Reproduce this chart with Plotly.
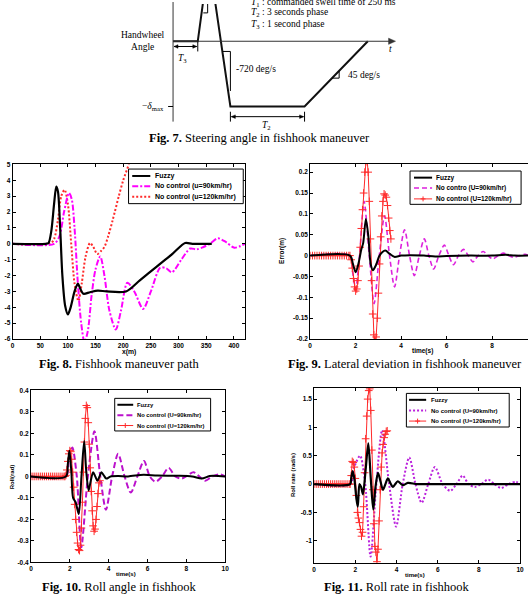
import plotly.graph_objects as go

W, H = 532, 600

# ---------------- data ----------------
# Fig. 7 handwheel angle profile (schematic units: s, deg)
steer_t = [0, 1.0, 1.45, 2.32, 5.32, 7.88]
steer_deg = [0, 0, 145, -115, -115, 0]

# Fig. 8 fishhook path  (x in m, y lateral)
f8_fuzzy_x = [0, 60, 65, 70, 75, 79, 82, 86, 90, 95, 100, 105, 112, 118, 122, 128, 140, 154, 170, 205, 230, 260, 290, 312, 325, 360]
f8_fuzzy_y = [0, 0, 0.05, 0.8, 2.5, 3.6, 3.3, 1.0, -2.0, -3.9, -4.45, -4.0, -3.0, -2.5, -2.8, -3.15, -3.05, -2.95, -3.0, -3.0, -2.3, -1.45, -0.6, 0.05, 0.0, 0.0]
f8_u90_x = [0, 75, 85, 93, 102, 107, 112, 118, 124, 130, 136, 143, 150, 158.5, 166, 175, 186.6, 196, 207.5, 220, 236, 250, 267, 278, 288, 305, 321, 333, 345, 357, 371, 386, 401, 420]
f8_u90_y = [0, 0, 0.5, 2.0, 3.2, 2.8, 1.0, -2.5, -5.0, -6.2, -5.5, -3.2, -1.6, -0.8, -2.0, -4.2, -5.4, -4.2, -2.45, -3.0, -4.1, -3.0, -1.5, -1.55, -1.8, -1.0, -0.3, -0.35, -0.2, 0.0, 0.35, 0.1, -0.25, 0.0]
f8_u120_x = [0, 68, 75, 82, 88, 94, 100, 106, 112, 119, 125, 132, 140, 146, 153, 160, 166, 173, 181, 192, 200, 210, 216]
f8_u120_y = [0, 0, 0.3, 1.5, 3.0, 3.4, 2.5, 0.0, -2.5, -3.6, -2.5, -0.8, 0.05, -0.2, -0.65, -0.45, -0.2, 0.5, 1.5, 3.0, 4.0, 5.0, 5.8]

# time grid of the "No control (U=120km/hr)" runs (marker positions)
red_t = [0, 0.1, 0.2, 0.3, 0.4, 0.5, 0.6, 0.7, 0.8, 0.9, 1.0, 1.1, 1.2, 1.3, 1.4, 1.5, 1.6, 1.7,
         1.75, 1.8, 1.85, 1.9, 1.95, 2.0, 2.05, 2.1, 2.15, 2.2, 2.25, 2.3, 2.35, 2.4, 2.45, 2.5, 2.55,
         2.6, 2.65, 2.7, 2.75, 2.8, 2.85, 2.9, 2.95, 3.0, 3.05, 3.1, 3.15, 3.2, 3.25, 3.3, 3.35, 3.4,
         3.45, 3.5, 3.55]

# Fig. 9 lateral deviation
f9_fz_t = [0, 1.75, 1.88, 2.0, 2.12, 2.25, 2.33, 2.45, 2.56, 2.66, 2.76, 2.9, 3.05, 3.3, 3.5, 3.7, 4.0, 4.4, 5.0, 5.5, 6.0, 7.0, 8.0, 8.6, 9.0, 9.6]
f9_fz_y = [0, 0, -0.02, -0.04, -0.02, 0.015, 0.03, 0.088, 0.045, -0.02, -0.035, -0.022, 0.0, 0.012, 0.004, -0.003, 0.0, 0.001, 0.0, -0.002, -0.001, 0.0, 0.0, 0.002, 0.0, 0.0]
f9_u90_t = [0, 1.75, 1.87, 2.0, 2.17, 2.37, 2.6, 2.81, 3.04, 3.27, 3.49, 3.71, 3.93, 4.15, 4.37, 4.58, 4.8, 5.02, 5.22, 5.43, 5.66, 5.9, 6.1, 6.3, 6.52, 6.74, 6.95, 7.16, 7.38, 7.61, 7.82, 8.03, 8.27, 8.5, 8.72, 8.95, 9.2, 9.45, 9.6]
f9_u90_y = [0, 0, -0.04, -0.08, 0.0, 0.13, 0.0, -0.115, 0.0, 0.095, 0.0, -0.075, 0.0, 0.062, 0.0, -0.048, 0.0, 0.04, 0.0, -0.032, 0.0, 0.025, 0.0, -0.022, 0.0, 0.015, 0.0, -0.015, 0.0, 0.01, 0.0, -0.008, 0.0, 0.006, 0.0, -0.004, 0.0, 0.003, 0.0]
f9_u120_y = [0, 0, 0, 0, 0, 0, 0, 0, 0, 0, 0, 0, 0, 0, 0, 0, 0, 0,
             0, -0.01, -0.03, -0.055, -0.075, -0.085, -0.08, -0.06, -0.025, 0.02, 0.065, 0.11, 0.15, 0.2,
             0.225, 0.23, 0.2, 0.13, 0.04, -0.06, -0.14, -0.19, -0.205, -0.195, -0.15, -0.09, -0.02, 0.045,
             0.095, 0.13, 0.148, 0.145, 0.14, 0.12, 0.09, 0.06, 0.04]

# Fig. 10 roll angle
f10_fz_t = [0, 1.8, 1.9, 1.98, 2.08, 2.17, 2.3, 2.46, 2.6, 2.74, 2.85, 2.97, 3.08, 3.2, 3.31, 3.42, 3.53, 3.63, 3.75, 3.88, 4.1, 4.5, 5.0, 5.8, 6.5, 7.5, 8.3, 8.8, 9.2, 10]
f10_fz_y = [0, 0, 0.06, 0.12, 0.02, -0.1, -0.12, -0.175, 0.0, 0.165, 0.02, -0.065, -0.02, 0.02, 0.0, -0.02, 0.0, 0.02, 0.005, -0.01, 0.0, 0.002, 0.0, 0.008, 0.004, 0.003, 0.0, -0.01, 0.002, 0.0]
f10_u90_t = [0, 1.8, 1.95, 2.13, 2.36, 2.59, 2.93, 3.27, 3.57, 3.86, 4.18, 4.49, 4.82, 5.14, 5.48, 5.82, 6.12, 6.41, 6.75, 7.09, 7.43, 7.77, 8.07, 8.37, 8.67, 8.97, 9.35, 9.73, 10]
f10_u90_y = [0, 0, 0.08, 0.135, 0.0, -0.33, 0.0, 0.21, 0.0, -0.155, 0.0, 0.105, 0.0, -0.075, 0.0, 0.072, 0.0, -0.025, 0.0, 0.04, 0.0, -0.01, 0.005, 0.02, 0.0, -0.02, 0.0, 0.01, 0.0]
f10_u120_y = [0, 0, 0, 0, 0, 0, 0, 0, 0, 0, 0, 0, 0, 0, 0, 0, 0, 0,
              0, 0.005, 0.03, 0.07, 0.105, 0.12, 0.115, 0.08, 0.02, -0.05, -0.13, -0.2, -0.26, -0.31,
              -0.34, -0.345, -0.32, -0.24, -0.12, 0.02, 0.16, 0.27, 0.33, 0.32, 0.25, 0.15, 0.04, -0.07,
              -0.16, -0.23, -0.255, -0.245, -0.2, -0.14, -0.08, -0.03, -0.02]

# Fig. 11 roll rate
f11_fz_t = [0, 1.75, 1.8, 1.87, 1.95, 2.05, 2.12, 2.2, 2.28, 2.37, 2.5, 2.63, 2.75, 2.87, 2.98, 3.1, 3.22, 3.34, 3.46, 3.58, 3.7, 3.82, 3.94, 4.06, 4.3, 4.55, 5.0, 6.0, 7.0, 8.0, 9.0, 10]
f11_fz_y = [0, 0, 0.1, 0.23, 0.1, -0.25, -0.4, 0.0, -0.05, -0.18, 0.25, 0.72, 0.1, -0.45, -0.05, 0.2, 0.05, -0.1, 0.0, 0.1, 0.02, -0.05, 0.0, 0.05, -0.02, 0.02, 0.0, 0.0, 0.0, 0.0, 0.0, 0.0]
f11_u90_t = [0, 1.75, 1.95, 2.23, 2.48, 2.74, 3.02, 3.3, 3.64, 3.98, 4.3, 4.62, 4.92, 5.22, 5.54, 5.86, 6.24, 6.61, 6.91, 7.21, 7.5, 7.8, 8.12, 8.44, 8.76, 9.08, 9.44, 9.8, 10]
f11_u90_y = [0, 0, 0.3, 0.5, 0.0, -1.28, 0.0, 0.95, 0.0, -0.75, 0.0, 0.47, 0.0, -0.33, 0.0, 0.3, 0.0, -0.12, 0.0, 0.15, 0.0, -0.05, 0.0, 0.08, 0.0, -0.07, 0.0, 0.04, 0.0]
f11_u120_y = [0, 0, 0, 0, 0, 0, 0, 0, 0, 0, 0, 0, 0, 0, 0, 0, 0, 0,
              0, 0.15, 0.4, 0.38, 0.3, 0.1, -0.2, -0.5, -0.6, -0.68, -0.8, -0.92, -0.85, -0.4,
              0.2, 0.8, 1.2, 1.5, 1.65, 1.68, 1.3, 0.6, -0.1, -0.7, -1.1, -1.2, -1.37, -1.15,
              -0.65, -0.1, 0.3, 0.55, 0.7, 0.82, 0.88, 0.93, 0.94]

# tick labels
f8_xt = [0, 50, 100, 150, 200, 250, 300, 350, 400]
f8_yt = [-6, -5, -4, -3, -2, -1, 0, 1, 2, 3, 4, 5]
f9_xt = [0, 2, 4, 6, 8]
f9_yt = [-0.2, -0.15, -0.1, -0.05, 0, 0.05, 0.1, 0.15, 0.2]
f9_ytl = ["-0.2", "-0.15", "-0.1", "-0.05", "0", "0.05", "0.1", "0.15", "0.2"]
f10_xt = [0, 2, 4, 6, 8, 10]
f10_yt = [-0.4, -0.3, -0.2, -0.1, 0, 0.1, 0.2, 0.3, 0.4]
f10_ytl = ["-0.4", "-0.3", "-0.2", "-0.1", "0", "0.1", "0.2", "0.3", "0.4"]
f11_xt = [0, 2, 4, 6, 8, 10]
f11_yt = [-1, -0.5, 0, 0.5, 1, 1.5]
f11_ytl = ["-1", "-0.5", "0", "0.5", "1", "1.5"]

# ---------------- figure ----------------
def fx(px):
    return px / W

def fy(py):
    return 1 - py / H

BLACK = "#000000"
MAG8 = "#ff00ff"
MAG9 = "#dd22dd"
MAG10 = "#bb11cc"
MAG11 = "#bb22dd"
RED = "#ff2a2a"
SANS = "Liberation Sans"
SERIF = "Liberation Serif"
DASHDOT = "6px,2px,2px,2px"
DOT = "2px,2px"
DASH9 = "5px,3px"
DASH10 = "6px,3px"

fig = go.Figure()

def line(x, y, xa, ya, color, width, dash="solid", spline=True, marker=False):
    kw = dict(x=x, y=y, xaxis=xa, yaxis=ya, showlegend=False, hoverinfo="skip",
              line=dict(color=color, width=width, dash=dash,
                        shape="spline" if spline else "linear", smoothing=0.8))
    if marker:
        kw["mode"] = "lines+markers"
        kw["marker"] = dict(symbol="cross-thin", size=5.5, line=dict(color=color, width=1), color=color)
    else:
        kw["mode"] = "lines"
    fig.add_trace(go.Scatter(**kw))

# Fig 8
line(f8_u120_x, f8_u120_y, "x", "y", RED, 2, DOT)
line(f8_u90_x, f8_u90_y, "x", "y", MAG8, 2, DASHDOT)
line(f8_fuzzy_x, f8_fuzzy_y, "x", "y", BLACK, 2.2)
# Fig 9
line(f9_u90_t, f9_u90_y, "x2", "y2", MAG9, 1.6, DASH9)
line(red_t, f9_u120_y, "x2", "y2", RED, 1, spline=False, marker=True)
line(f9_fz_t, f9_fz_y, "x2", "y2", BLACK, 2)
# Fig 10
line(f10_u90_t, f10_u90_y, "x3", "y3", MAG10, 2, DASH10)
line(red_t, f10_u120_y, "x3", "y3", RED, 1, spline=False, marker=True)
line(f10_fz_t, f10_fz_y, "x3", "y3", BLACK, 2)
# Fig 11
line(f11_u90_t, f11_u90_y, "x4", "y4", MAG11, 2, DOT)
line(red_t, f11_u120_y, "x4", "y4", RED, 1, spline=False, marker=True)
line(f11_fz_t, f11_fz_y, "x4", "y4", BLACK, 2.2)
# Fig 7 schematic
fig.add_trace(go.Scatter(x=steer_t, y=steer_deg, xaxis="x5", yaxis="y5", mode="lines",
                         line=dict(color="#111111", width=2), showlegend=False, hoverinfo="skip"))

tickfont = dict(family=SANS, size=6.5, color="black", weight="bold")

def axes(n, px0, px1, py0, py1, xr, yr, xt, yt, ytl=None, ymirror="ticks"):
    common = dict(showline=True, linecolor="black", linewidth=1, ticks="inside", ticklen=3,
                  tickcolor="black", showgrid=False, zeroline=False, tickfont=tickfont)
    sx = "" if n == 1 else str(n)
    xa = dict(common, domain=[fx(px0), fx(px1)], range=xr, tickvals=xt,
              ticktext=[str(v) for v in xt], mirror="ticks", anchor="y" + sx)
    ya = dict(common, domain=[fy(py1), fy(py0)], range=yr, tickvals=yt,
              ticktext=ytl if ytl else [str(v) for v in yt], mirror=ymirror, anchor="x" + sx)
    fig.update_layout(**{"xaxis" + sx: xa, "yaxis" + sx: ya})

axes(1, 10.7, 245.7, 162.3, 339, [0, 420], [-6, 5], f8_xt, f8_yt)
axes(2, 311.7, 532, 161.7, 339, [0, 9.58], [-0.2, 0.22], f9_xt, f9_yt, f9_ytl, ymirror=False)
axes(3, 29.3, 225.7, 391, 565, [0, 10], [-0.4, 0.4], f10_xt, f10_yt, f10_ytl)
axes(4, 315.7, 524, 388.3, 566, [0, 10], [-1.4, 1.7], f11_xt, f11_yt, f11_ytl)

# schematic axis: t=0 at px 173, 25 px/s ; 0 deg at py 37.7, 0.574 px/deg
def st(px):
    return (px - 173) / 25.0

def sd(py):
    return (37.7 - py) / 0.574

fig.update_layout(
    xaxis5=dict(domain=[fx(140), fx(400)], range=[st(140), st(400)], visible=False, anchor="y5"),
    yaxis5=dict(domain=[fy(125), fy(0)], range=[sd(125), sd(0)], visible=False, anchor="x5"),
)

shapes = []
ann = []

def seg(x0, y0, x1, y1, color="black", width=1, dash="solid", ref=("paper", "paper")):
    shapes.append(dict(type="line", x0=x0, y0=y0, x1=x1, y1=y1, xref=ref[0], yref=ref[1],
                       line=dict(color=color, width=width, dash=dash)))

def pseg(px0, py0, px1, py1, color="black", width=1):
    seg(fx(px0), fy(py0), fx(px1), fy(py1), color, width)

def head(px, py, direction, size=4, color="black"):
    # filled arrow head, tip at (px, py), pointing right (+1) or left (-1)
    bx = px - direction * size
    path = "M {} {} L {} {} L {} {} Z".format(fx(px), fy(py), fx(bx), fy(py - size * 0.45),
                                             fx(bx), fy(py + size * 0.45))
    shapes.append(dict(type="path", path=path, xref="paper", yref="paper",
                       fillcolor=color, line=dict(color=color, width=0.5)))

def text(px, py, s, size, family=SANS, xanchor="center", bold=False, angle=0, color="black"):
    f = dict(family=family, size=size, color=color)
    if bold:
        f["weight"] = "bold"
    ann.append(dict(x=fx(px), y=fy(py), xref="paper", yref="paper", text=s, showarrow=False,
                    xanchor=xanchor, yanchor="middle", font=f, textangle=angle))

# ---- schematic decorations ----
S = ("x5", "y5")
pseg(173, -2, 173, 119, "#333333", 1)     # vertical axis
pseg(173, 37.7, 392, 37.7, "#333333", 1)  # t axis
head(398, 37.7, 1, 7, "#333333")
# slope triangles
seg(st(203.6), sd(9), st(208), sd(9), ref=S)
seg(st(208), sd(9), st(208), sd(0), ref=S)
seg(st(223), sd(48), st(231), sd(48), ref=S)
seg(st(231), sd(48), st(231), sd(88), ref=S)
seg(st(333.8), sd(75), st(341), sd(75), ref=S)
seg(st(341), sd(75), st(341), sd(68), ref=S)
# -delta_max tick
pseg(168, 103.7, 173, 103.7)
# T3 bracket
pseg(174, 43, 197, 43)
head(174, 43, -1, 4)
head(197, 43, 1, 4)
pseg(198, 38, 198, 48)
# T2 bracket
pseg(232, 114, 305, 114)
head(232, 114, -1, 4)
head(305, 114, 1, 4)
pseg(231, 109, 231, 119)
pseg(306, 109, 306, 119)

text(143, 37.5, "Handwheel<br>Angle", 9.5, SERIF)
text(393, 46, "<i>t</i>", 9.5, SERIF)
text(166, 103.7, "−<i>δ</i><sub>max</sub>", 9.5, SERIF, xanchor="right")
text(183, 55, "<i>T</i><sub>3</sub>", 9.5, SERIF)
text(268, 123, "<i>T</i><sub>2</sub>", 9.5, SERIF)
text(235, 66, "-720 deg/s", 9.5, SERIF, xanchor="left")
text(348, 72, "45 deg/s", 9.5, SERIF, xanchor="left")
text(250, -2, "<i>T</i><sub>1</sub> : commanded swell time of 250 ms", 9.5, SERIF, xanchor="left")
text(250, 9, "<i>T</i><sub>2</sub> : 3 seconds phase", 9.5, SERIF, xanchor="left")
text(250, 20.7, "<i>T</i><sub>3</sub> : 1 second phase", 9.5, SERIF, xanchor="left")

# captions
text(260, 136, "<b>Fig. 7.</b> Steering angle in fishhook maneuver", 12.5, SERIF)
text(118, 364.5, "<b>Fig. 8.</b> Fishhook maneuver path", 12.5, SERIF)
text(287, 364.5, "<b>Fig. 9.</b> Lateral deviation in fishhook maneuver", 12.5, SERIF, xanchor="left")
text(119, 590, "<b>Fig. 10.</b> Roll angle in fishhook", 12.5, SERIF)
text(399, 590, "<b>Fig. 11.</b> Roll rate in fishhook", 12.5, SERIF)

# axis titles
text(128, 352.5, "x(m)", 6.8, bold=True)
text(425, 351.5, "time(s)", 6.5, bold=True)
text(283, 250, "Error(m)", 6.5, bold=True, angle=-90)
text(11, 478, "Roll(rad)", 6, bold=True, angle=-90)
text(125, 577, "time(s)", 6, bold=True)
text(295, 477, "Roll rate (rad/s)", 6, bold=True, angle=-90)
text(418, 578, "time(s)", 6, bold=True)

# manual legends
def legend(box, sx0, sx1, tx, rows, items, fsize):
    x0, y0, x1, y1 = box
    shapes.append(dict(type="rect", xref="paper", yref="paper", x0=fx(x0), x1=fx(x1),
                       y0=fy(y1), y1=fy(y0), line=dict(color="black", width=1), fillcolor="white"))
    for (name, color, dash, width, mk), ry in zip(items, rows):
        seg(fx(sx0), fy(ry), fx(sx1), fy(ry), color, width, dash)
        if mk:
            mx = (sx0 + sx1) / 2
            pseg(mx - 2.5, ry, mx + 2.5, ry, color, 1)
            pseg(mx, ry - 2.5, mx, ry + 2.5, color, 1)
        text(tx, ry, name, fsize, bold=True, xanchor="left")

legend((128, 167, 244, 202), 131.7, 150, 152.5, [174, 184.5, 195],
       [("Fuzzy", BLACK, "solid", 2, False),
        ("No control (u=90km/hr)", MAG8, DASHDOT, 2, False),
        ("No control (u=120km/hr)", RED, DOT, 2, False)], 7)
legend((412.7, 169, 525, 202.7), 416.7, 435, 436.5, [175.7, 186.2, 197.2],
       [("Fuzzy", BLACK, "solid", 2, False),
        ("No contro (U=90km/hr)", MAG9, DASH9, 1.6, False),
        ("No control (U=120km/hr)", RED, "solid", 1, True)], 6.5)
legend((114, 399, 211, 432), 116.7, 132.7, 134.5, [405.5, 416, 426.5],
       [("Fuzzy", BLACK, "solid", 2, False),
        ("No control (U=90km/hr)", MAG10, DASH10, 2, False),
        ("No control (U=120km/hr)", RED, "solid", 1, True)], 5.8)
legend((409, 394, 513, 428), 411.7, 429, 431.5, [400.5, 411.3, 422],
       [("Fuzzy", BLACK, "solid", 2, False),
        ("No control (U=90km/hr)", MAG11, DOT, 2, False),
        ("No control (U=120km/hr)", RED, "solid", 1, True)], 6)

fig.update_layout(width=W, height=H, autosize=False, margin=dict(l=0, r=0, t=0, b=0),
                  paper_bgcolor="white", plot_bgcolor="white", shapes=shapes, annotations=ann,
                  showlegend=False)

fig.write_html("out.html")
